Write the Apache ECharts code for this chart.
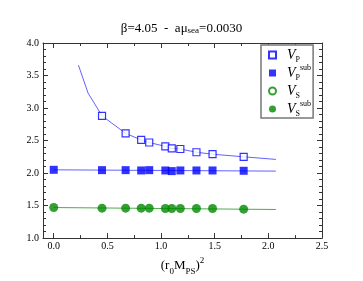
<!DOCTYPE html>
<html><head><meta charset="utf-8">
<script src="https://cdn.jsdelivr.net/npm/echarts@6/dist/echarts.min.js"></script>
<style>html,body{margin:0;padding:0;background:#fff}#c{width:363px;height:281px}</style>
</head><body><div id="c"></div>
<script>
// ---- data ----
const xMajor = [0, 0.5, 1.0, 1.5, 2.0, 2.5];
const xMinor = [0.25, 0.75, 1.25, 1.75, 2.25];
const xP = [0.45, 0.67, 0.815, 0.89, 1.04, 1.10, 1.18, 1.33, 1.48, 1.77];
const vP = [2.88, 2.61, 2.51, 2.47, 2.41, 2.38, 2.37, 2.32, 2.29, 2.25];
const xSub = [0.0, 0.45, 0.67, 0.815, 0.89, 1.04, 1.10, 1.18, 1.33, 1.48, 1.77];
const vPsub = [2.05, 2.045, 2.045, 2.04, 2.045, 2.04, 2.03, 2.04, 2.04, 2.04, 2.035];
const vSsub = [1.47, 1.46, 1.46, 1.46, 1.46, 1.455, 1.455, 1.455, 1.455, 1.455, 1.445];
const fitPx = [0.23, 0.32, 0.45, 0.67, 0.815, 0.89, 1.04, 1.10, 1.18, 1.33, 1.48, 1.77, 2.07];
const fitPy = [3.66, 3.23, 2.88, 2.61, 2.51, 2.47, 2.41, 2.38, 2.37, 2.32, 2.29, 2.25, 2.21];
const fitPsubX = [0.0, 2.07];
const fitPsubY = [2.05, 2.03];
const fitSsubX = [0.0, 2.07];
const fitSsubY = [1.47, 1.44];

const zip = (a, b) => a.map((v, i) => [v, b[i]]);
const serif = 'Liberation Serif';
const axCol = '#333';

const chart = echarts.init(document.getElementById('c'), null, {renderer: 'canvas'});
const xBase = {type: 'value', min: -0.1, max: 2.5, splitLine: {show: false},
  axisLine: {show: true, onZero: false, lineStyle: {color: axCol, width: 1}}};
const majorTick = {show: true, inside: true, length: 5, customValues: xMajor, lineStyle: {color: axCol}};
const minorTickAx = {show: true, inside: true, length: 3, customValues: xMinor, lineStyle: {color: axCol}};

const yBase = {type: 'value', min: 1, max: 4, interval: 0.5, splitLine: {show: false},
  axisLine: {show: true, onZero: false, lineStyle: {color: axCol, width: 1}},
  axisTick: {show: true, inside: true, length: 5, lineStyle: {color: axCol}},
  minorTick: {show: true, splitNumber: 5, length: 3, lineStyle: {color: axCol}},
  minorSplitLine: {show: false}};

chart.setOption({
  animation: false,
  backgroundColor: '#fff',
  title: {
    text: 'β=4.05  -  aμ{s|sea}=0.0030',
    left: 'center', top: 17,
    textStyle: {fontFamily: serif, fontSize: 13, fontWeight: 'normal', color: '#000',
      rich: {s: {fontFamily: serif, fontSize: 9, verticalAlign: 'bottom', lineHeight: 8, padding: [6, 0, 0, 0]}}}
  },
  grid: {left: 43, top: 43, right: 41, bottom: 42},
  xAxis: [
    Object.assign({}, xBase, {position: 'bottom', axisTick: majorTick,
      axisLabel: {show: true, customValues: xMajor, margin: 3, fontFamily: serif, fontSize: 10, color: '#000',
        formatter: v => v.toFixed(1)},
      name: '({t|r}{s|0}{t|M}{s|PS}{t|)}{u|2}', nameLocation: 'middle', nameGap: 15,
      nameTextStyle: {fontFamily: serif, fontSize: 13, color: '#000',
        rich: {t: {fontFamily: serif, fontSize: 13, lineHeight: 20, verticalAlign: 'middle'},
               s: {fontFamily: serif, fontSize: 9, lineHeight: 9, verticalAlign: 'bottom'},
               u: {fontFamily: serif, fontSize: 9, lineHeight: 9, verticalAlign: 'top'}}}}),
    Object.assign({}, xBase, {position: 'bottom', axisLine: {show: false}, axisTick: minorTickAx, axisLabel: {show: false}}),
    Object.assign({}, xBase, {position: 'top', axisTick: majorTick, axisLabel: {show: false}}),
    Object.assign({}, xBase, {position: 'top', axisLine: {show: false}, axisTick: minorTickAx, axisLabel: {show: false}})
  ],
  yAxis: [
    Object.assign({}, yBase, {position: 'left',
      axisLabel: {show: true, margin: 4, fontFamily: serif, fontSize: 10, color: '#000', formatter: v => v.toFixed(1)}}),
    Object.assign({}, yBase, {position: 'right', axisLabel: {show: false}})
  ],
  legend: {
    orient: 'vertical', left: 261, top: 45, padding: [1, 2, 0, 7],
    borderColor: '#777', borderWidth: 1.5, backgroundColor: '#fff',
    itemWidth: 7, itemHeight: 7, itemGap: 0,
    data: ['P', 'Psub', 'S', 'Ssub'],
    formatter: n => {
      const sub = n.charAt(0);
      return '{v|V}{s|' + sub + '}' + (n.length > 1 ? '{u|sub}' : '{u|   }');
    },
    textStyle: {color: '#000', fontFamily: serif, padding: [0, 0, 0, 6],
      rich: {v: {fontFamily: serif, fontStyle: 'italic', fontSize: 14, lineHeight: 18, verticalAlign: 'middle'},
             s: {fontFamily: serif, fontSize: 8, lineHeight: 8, verticalAlign: 'bottom'},
             u: {fontFamily: serif, fontSize: 8, lineHeight: 8, verticalAlign: 'top'}}}
  },
  series: [
    {type: 'line', data: zip(fitPx, fitPy), showSymbol: false, symbol: 'none', silent: true,
     lineStyle: {color: 'rgba(70,70,255,0.85)', width: 1}, z: 1},
    {type: 'line', data: zip(fitPsubX, fitPsubY), symbol: 'none', silent: true,
     lineStyle: {color: 'rgba(70,70,255,0.85)', width: 1}, z: 1},
    {type: 'line', data: zip(fitSsubX, fitSsubY), symbol: 'none', silent: true,
     lineStyle: {color: 'rgba(40,160,40,0.85)', width: 1}, z: 1},
    {name: 'P', type: 'scatter', data: zip(xP, vP), symbol: 'rect', symbolSize: 7,
     itemStyle: {color: '#fff', borderColor: '#0000ff', borderWidth: 1.2}, z: 3},
    {name: 'Psub', type: 'scatter', data: zip(xSub, vPsub), symbol: 'rect', symbolSize: 8,
     itemStyle: {color: '#0000ff'}, z: 3},
    {name: 'S', type: 'scatter', data: [], symbol: 'circle', symbolSize: 8,
     itemStyle: {color: '#fff', borderColor: '#008800', borderWidth: 1.2}, z: 3},
    {name: 'Ssub', type: 'scatter', data: zip(xSub, vSsub), symbol: 'circle', symbolSize: 9,
     itemStyle: {color: '#008800'}, z: 3}
  ]
});
</script></body></html>
